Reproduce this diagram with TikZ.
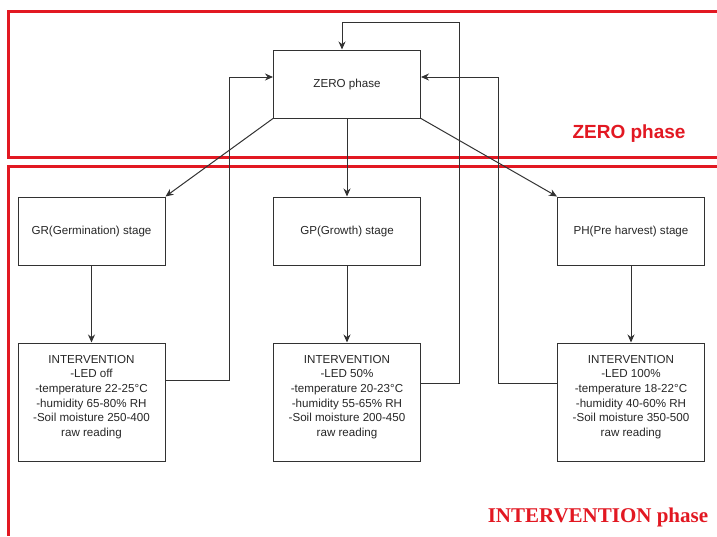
\documentclass[tikz,border=0pt]{standalone}
\usepackage{fontspec}
\setmainfont{Liberation Sans}
\newfontfamily\serifbold{Liberation Serif}
\usetikzlibrary{positioning,arrows.meta}
\definecolor{colFrame}{RGB}{226,24,34}
\definecolor{colLine}{RGB}{50,50,50}

\begin{document}
\begin{tikzpicture}[x=1pt,y=-1pt,
    every node/.style={font=\fontsize{11.6}{14.6}\selectfont, text=black!85},
    stage/.style={draw=colLine, rectangle, minimum width=147pt, minimum height=68pt, inner sep=0pt, line width=1pt},
    ivbox/.style={draw=colLine, rectangle, minimum width=147pt, minimum height=118pt, inner sep=0pt, line width=1pt},
    ivtext/.style={align=center, inner sep=0pt},
    frame/.style={colFrame, line width=3pt},
    flow/.style={draw=colLine, line width=1pt, -{Stealth[length=8pt,width=7pt]}}
]
    \useasboundingbox (0,0) rectangle (717,536);

    % phase frames (open to the right)
    \draw[frame] (717,11) -- (8,11) -- (8,157) -- (717,157);
    \draw[frame] (717,166) -- (8,166) -- (8,536);
    \node[text=colFrame, font=\fontsize{19}{22}\selectfont\bfseries] (zlabel) at (629,134) {ZERO phase};
    \node[text=colFrame, font=\fontsize{21}{24}\selectfont\serifbold\bfseries] (ilabel) at (598,517) {INTERVENTION phase};

    % zero phase
    \node[stage] (Z) at (347,84) {ZERO phase};

    % growth stages
    \node[stage] (GR) at (91.5,231) {GR(Germination) stage};
    \node[stage] (GP) at (347,231) {GP(Growth) stage};
    \node[stage] (PH) at (631,231) {PH(Pre harvest) stage};

    % interventions, one under each stage
    \node[ivbox] (I1) at (91.5,402) {};
    \node[ivbox] (I2) at (347,402) {};
    \node[ivbox] (I3) at (631,402) {};
    \node[ivtext] (T1) at ([yshift=5pt]I1.center) {INTERVENTION\\-LED off\\-temperature 22-25°C\\-humidity 65-80\% RH\\-Soil moisture 250-400\\raw reading};
    \node[ivtext] (T2) at ([yshift=5pt]I2.center) {INTERVENTION\\-LED 50\%\\-temperature 20-23°C\\-humidity 55-65\% RH\\-Soil moisture 200-450\\raw reading};
    \node[ivtext] (T3) at ([yshift=5pt]I3.center) {INTERVENTION\\-LED 100\%\\-temperature 18-22°C\\-humidity 40-60\% RH\\-Soil moisture 350-500\\raw reading};

    % zero phase branches into the stages
    \draw[flow] (Z.south west) -- (GR.north east);
    \draw[flow] (Z.south) -- (GP.north);
    \draw[flow] (Z.south east) -- (PH.north west);

    % stage -> intervention
    \draw[flow] (GR.south) -- (I1.north);
    \draw[flow] (GP.south) -- (I2.north);
    \draw[flow] (PH.south) -- (I3.north);

    % feedback to zero phase
    \draw[flow] ([yshift=22pt]I1.east) -- ++(64,0) |- ([yshift=7pt]Z.west);
    \draw[flow] ([yshift=19pt]I2.east) -| (459,22) -| ([xshift=-5pt]Z.north);
    \draw[flow] ([yshift=19pt]I3.west) -- ++(-59,0) |- ([yshift=7pt]Z.east);
\end{tikzpicture}
\end{document}
